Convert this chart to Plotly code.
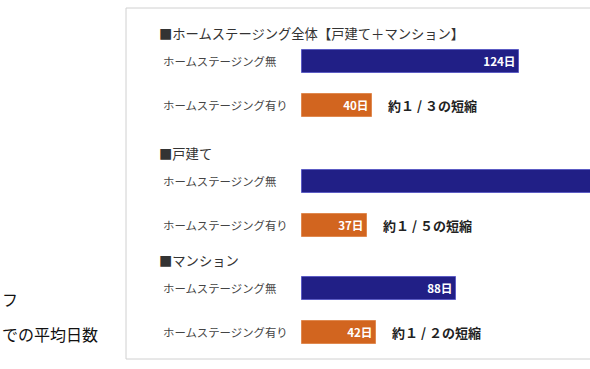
import plotly.graph_objects as go

# ---- data ----
groups = ["■ホームステージング全体【戸建て＋マンション】", "■戸建て", "■マンション"]
row_labels = ["ホームステージング無", "ホームステージング有り"]
days_without = [124, 185, 88]
days_with = [40, 37, 42]
reductions = ["約１ / ３の短縮", "約１ / ５の短縮", "約１ / ２の短縮"]
side_lines = ["フ", "での平均日数"]

# ---- layout constants (pixels) ----
W, H = 590, 369
px_per_day = 1.75
bar_x0_px = 302
group_top = [33, 153, 260]
row_offsets = [28, 72]
bar_h = 23

x_min = -bar_x0_px / px_per_day
x_max = (W - bar_x0_px) / px_per_day

navy = "#211f86"
orange = "#d2651f"
font_family = "Noto Sans CJK JP, Noto Sans, sans-serif"

y_without = [g + row_offsets[0] for g in group_top]
y_with = [g + row_offsets[1] for g in group_top]


def bar_text(vals):
    # labels of bars running past the visible edge are cut off in the original
    return [f"<b>{v}日</b>" if v < x_max - 5 else "" for v in vals]


fig = go.Figure()
fig.add_trace(go.Bar(
    x=days_without, y=y_without, orientation="h", width=bar_h,
    marker=dict(color=navy, line=dict(color="#5c5cc4", width=1)),
    text=bar_text(days_without),
    textposition="inside", insidetextanchor="end",
    textfont=dict(color="white", size=13, family=font_family),
    cliponaxis=True, hoverinfo="skip", showlegend=False,
))
fig.add_trace(go.Bar(
    x=days_with, y=y_with, orientation="h", width=bar_h,
    marker=dict(color=orange, line=dict(color="#e0894f", width=1)),
    text=bar_text(days_with),
    textposition="inside", insidetextanchor="end",
    textfont=dict(color="white", size=13, family=font_family),
    cliponaxis=True, hoverinfo="skip", showlegend=False,
))

annotations = []
for gi, g in enumerate(groups):
    annotations.append(dict(
        x=157 / W, xref="paper", y=group_top[gi], yref="y",
        text=g, showarrow=False, xanchor="left", yanchor="middle",
        font=dict(size=13.3, color="#333333", family=font_family),
    ))
    for ri, yy in enumerate([y_without[gi], y_with[gi]]):
        annotations.append(dict(
            x=161 / W, xref="paper", y=yy, yref="y",
            text=row_labels[ri], showarrow=False, xanchor="left", yanchor="middle",
            font=dict(size=11.4, color="#444444", family=font_family),
        ))
    annotations.append(dict(
        x=days_with[gi], xref="x", y=y_with[gi], yref="y", xshift=14,
        text=f"<b>{reductions[gi]}</b>", showarrow=False, xanchor="left", yanchor="middle",
        font=dict(size=13, color="#222222", family=font_family),
    ))

annotations.append(dict(
    x=0, xref="paper", y=299, yref="y", text=side_lines[0], showarrow=False,
    xanchor="left", yanchor="middle", font=dict(size=16, color="#111111", family=font_family),
))
annotations.append(dict(
    x=0, xref="paper", y=334, yref="y", text=side_lines[1], showarrow=False,
    xanchor="left", yanchor="middle", font=dict(size=16, color="#111111", family=font_family),
))

fig.update_layout(
    width=W, height=H,
    margin=dict(l=0, r=0, t=0, b=0),
    paper_bgcolor="white", plot_bgcolor="white",
    xaxis=dict(range=[x_min, x_max], visible=False, fixedrange=True),
    yaxis=dict(range=[H, 0], visible=False, fixedrange=True),
    annotations=annotations,
    shapes=[dict(
        type="rect", xref="paper", yref="paper",
        x0=126 / W, x1=1.02, y0=1 - 8 / H, y1=1 - 359 / H,
        line=dict(color="#d0d0d0", width=1), fillcolor="rgba(0,0,0,0)", layer="below",
    )],
    bargap=0,
)

fig.write_html(
    "out.html",
    config={"displayModeBar": False},
    post_script="document.body.style.margin='0';document.body.style.overflow='hidden';",
)
